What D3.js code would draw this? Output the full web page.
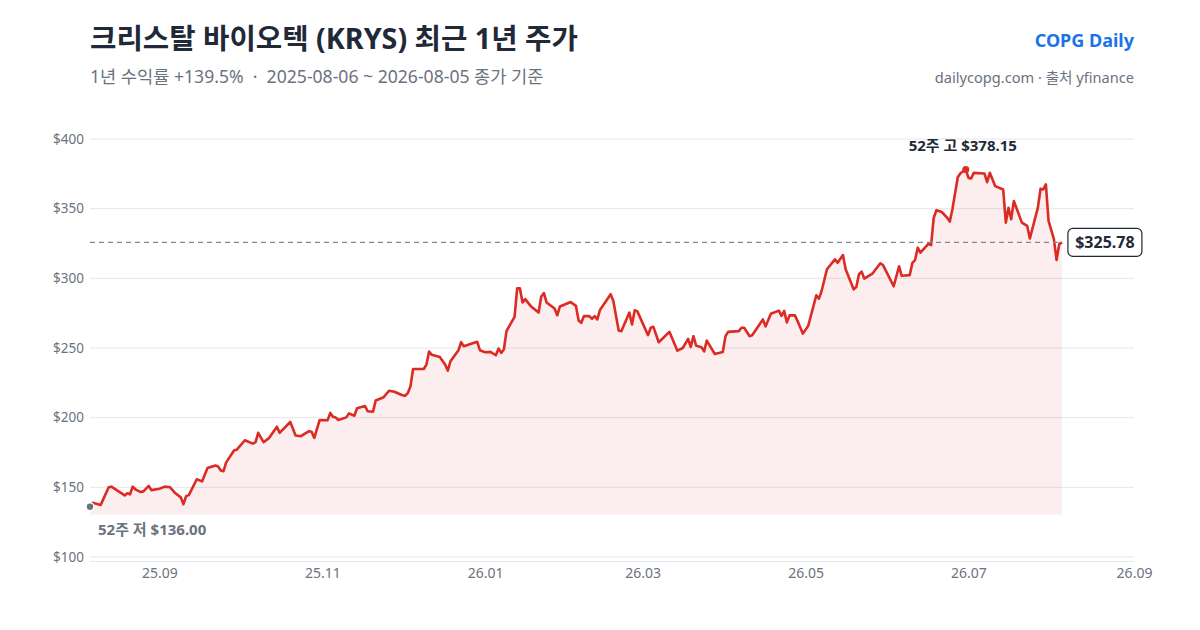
<!DOCTYPE html>
<html><head><meta charset="utf-8">
<script src="https://cdn.jsdelivr.net/npm/d3@7"></script>
<style>
html,body{margin:0;padding:0;background:#fff;}
svg{display:block;}
text{font-family:"Noto Sans","Open Sans","Noto Sans CJK KR",sans-serif;}
</style></head>
<body><svg id="c" width="1200" height="630"></svg>
<script>
const dates = ["2025-08-06","2025-08-07","2025-08-10","2025-08-13","2025-08-14","2025-08-16","2025-08-19","2025-08-20","2025-08-21","2025-08-22","2025-08-23","2025-08-25","2025-08-26","2025-08-28","2025-08-29","2025-09-01","2025-09-03","2025-09-05","2025-09-07","2025-09-09","2025-09-10","2025-09-11","2025-09-12","2025-09-15","2025-09-17","2025-09-19","2025-09-22","2025-09-23","2025-09-24","2025-09-25","2025-09-26","2025-09-29","2025-09-30","2025-10-03","2025-10-06","2025-10-07","2025-10-08","2025-10-10","2025-10-12","2025-10-15","2025-10-16","2025-10-20","2025-10-22","2025-10-24","2025-10-27","2025-10-28","2025-10-29","2025-10-31","2025-11-03","2025-11-04","2025-11-05","2025-11-06","2025-11-07","2025-11-10","2025-11-11","2025-11-13","2025-11-14","2025-11-17","2025-11-18","2025-11-20","2025-11-21","2025-11-24","2025-11-26","2025-11-28","2025-12-01","2025-12-02","2025-12-03","2025-12-04","2025-12-05","2025-12-09","2025-12-10","2025-12-11","2025-12-12","2025-12-15","2025-12-17","2025-12-18","2025-12-19","2025-12-22","2025-12-23","2025-12-24","2025-12-29","2025-12-30","2026-01-01","2026-01-03","2026-01-05","2026-01-06","2026-01-07","2026-01-08","2026-01-09","2026-01-12","2026-01-13","2026-01-14","2026-01-15","2026-01-16","2026-01-18","2026-01-21","2026-01-22","2026-01-23","2026-01-24","2026-01-27","2026-01-28","2026-01-29","2026-02-02","2026-02-04","2026-02-05","2026-02-06","2026-02-07","2026-02-09","2026-02-10","2026-02-11","2026-02-12","2026-02-13","2026-02-17","2026-02-18","2026-02-20","2026-02-21","2026-02-24","2026-02-25","2026-02-26","2026-02-27","2026-03-03","2026-03-04","2026-03-05","2026-03-07","2026-03-11","2026-03-14","2026-03-16","2026-03-18","2026-03-19","2026-03-20","2026-03-21","2026-03-23","2026-03-24","2026-03-25","2026-03-28","2026-03-31","2026-04-01","2026-04-02","2026-04-06","2026-04-07","2026-04-08","2026-04-10","2026-04-11","2026-04-15","2026-04-16","2026-04-18","2026-04-21","2026-04-22","2026-04-23","2026-04-24","2026-04-25","2026-04-27","2026-04-28","2026-04-30","2026-05-02","2026-05-05","2026-05-06","2026-05-07","2026-05-09","2026-05-12","2026-05-13","2026-05-15","2026-05-16","2026-05-19","2026-05-20","2026-05-21","2026-05-22","2026-05-23","2026-05-26","2026-05-29","2026-05-30","2026-06-03","2026-06-05","2026-06-06","2026-06-09","2026-06-10","2026-06-11","2026-06-12","2026-06-13","2026-06-16","2026-06-17","2026-06-18","2026-06-19","2026-06-21","2026-06-23","2026-06-24","2026-06-25","2026-06-27","2026-06-28","2026-06-30","2026-07-01","2026-07-02","2026-07-03","2026-07-07","2026-07-08","2026-07-09","2026-07-11","2026-07-14","2026-07-15","2026-07-16","2026-07-17","2026-07-18","2026-07-21","2026-07-23","2026-07-24","2026-07-27","2026-07-28","2026-07-29","2026-07-30","2026-07-31","2026-08-02","2026-08-03","2026-08-04","2026-08-05"];
const closes = [136.0,138.9,137.4,150.0,150.5,148.0,144.2,145.7,145.0,150.5,148.6,146.6,147.1,151.0,148.0,149.0,150.5,150.0,145.7,142.8,137.9,143.7,144.4,155.8,154.3,163.8,165.7,165.0,162.1,161.6,167.9,176.6,177.0,183.8,181.4,182.4,189.1,182.4,185.3,193.5,189.1,196.9,187.2,186.7,190.3,189.9,185.5,198.3,198.2,203.4,200.7,200.2,198.3,200.2,203.1,201.4,206.7,208.4,204.6,204.3,212.3,214.7,219.3,218.6,216.1,215.7,217.6,222.4,234.9,234.9,238.1,247.5,245.1,243.6,238.1,233.7,240.5,248.4,254.2,251.3,254.5,248.4,247.0,247.2,244.8,249.6,246.5,248.9,262.2,272.3,292.8,292.8,282.7,285.1,280.2,275.4,287.0,289.4,282.7,278.3,273.5,279.8,283.0,280.2,269.8,268.1,272.9,272.9,271.0,272.9,270.5,277.3,288.6,283.8,262.6,262.1,275.4,266.9,277.1,276.3,259.2,264.5,265.2,254.1,261.6,248.1,250.0,256.5,250.7,258.5,251.7,250.5,247.6,255.3,245.7,247.1,258.5,261.6,262.1,264.5,264.5,258.5,259.2,270.5,265.5,274.6,276.8,273.1,276.6,268.4,273.4,273.4,269.3,260.3,266.0,287.8,285.4,290.9,306.5,313.6,311.2,316.7,306.5,292.1,293.8,302.9,304.8,299.8,303.3,310.8,309.5,294.3,308.7,301.8,302.3,311.1,313.1,322.0,318.5,324.7,323.8,343.5,348.9,347.6,343.6,340.7,349.7,372.6,375.4,378.15,372.1,371.7,375.7,375.2,369.0,375.7,366.2,363.8,340.0,350.7,342.4,355.5,340.0,337.6,328.6,350.7,364.3,363.8,367.4,341.2,328.1,313.1,324.5,325.78];
const yTicks = [100,150,200,250,300,350,400];
const xTickDates = ["2025-09-01","2025-11-01","2026-01-01","2026-03-01","2026-05-01","2026-07-01","2026-09-01"];
const titleText = "크리스탈 바이오텍 (KRYS) 최근 1년 주가";
const subtitleText = "1년 수익률 +139.5%  ·  2025-08-06 ~ 2026-08-05 종가 기준";
const brandText = "COPG Daily";
const sourceText = "dailycopg.com · 출처 yfinance";

const FONT = '"Noto Sans","Open Sans","Noto Sans CJK KR",sans-serif';
const parse = d3.timeParse("%Y-%m-%d");
const data = dates.map((d,i)=>({date:parse(d), v:closes[i]}));
const svg = d3.select("#c");
const L=90, R=1134, T=139, B=557;
const x = d3.scaleTime().domain([parse("2025-08-06"), parse("2026-09-01")]).range([L,R]);
const y = d3.scaleLinear().domain([100,400]).range([B,T]);

// header
svg.append("text").attr("x",90).attr("y",49).attr("font-size",28.7).attr("font-weight",700).attr("fill","#1f2937").text(titleText);
svg.append("text").attr("x",90).attr("y",83).attr("font-size",17.6).attr("fill","#6b7280").attr("xml:space","preserve").style("white-space","pre").text(subtitleText);
svg.append("text").attr("x",1134).attr("y",47).attr("text-anchor","end").attr("font-size",18).attr("font-weight",700).attr("fill","#1a73e8").text(brandText);
svg.append("text").attr("x",1134).attr("y",83).attr("text-anchor","end").attr("font-size",14.6).attr("fill","#6b7280").text(sourceText);

// grid
const grid = svg.append("g");
grid.selectAll("line").data(yTicks).join("line")
  .attr("x1",L).attr("x2",R).attr("y1",d=>y(d)).attr("y2",d=>y(d))
  .attr("stroke","#e5e7eb").attr("stroke-width",1);
grid.selectAll("text").data(yTicks).join("text")
  .attr("x",84).attr("y",d=>y(d)).attr("dy","0.35em").attr("text-anchor","end")
  .attr("font-size",13.5).attr("fill","#6b7280").text(d=>"$"+d);

// x axis
const xa = svg.append("g").attr("transform",`translate(0,561)`)
  .call(d3.axisBottom(x).tickValues(xTickDates.map(parse)).tickFormat(d3.timeFormat("%y.%m")).tickSize(0).tickPadding(7));
xa.select(".domain").attr("stroke","#e5e7eb");
xa.selectAll("text").attr("font-size",14).attr("fill","#6b7280").attr("font-family",FONT);

// area + line
const minV = d3.min(closes), maxV = d3.max(closes);
const base = minV*0.96;
svg.append("path").datum(data)
  .attr("d", d3.area().x(d=>x(d.date)).y0(y(base)).y1(d=>y(d.v)))
  .attr("fill","#dc2626").attr("fill-opacity",0.08);
svg.append("path").datum(data)
  .attr("d", d3.line().x(d=>x(d.date)).y(d=>y(d.v)))
  .attr("fill","none").attr("stroke","#dc2b22").attr("stroke-width",2.6).attr("stroke-linejoin","round");

// last price dashed line
const last = data[data.length-1];
svg.append("line").attr("x1",L).attr("x2",x(last.date)).attr("y1",y(last.v)).attr("y2",y(last.v))
  .attr("stroke","#888").attr("stroke-width",1.2).attr("stroke-dasharray","5,4");
const lbl = svg.append("g").attr("transform",`translate(${x(last.date)+6},${y(last.v)})`);
lbl.append("rect").attr("x",0).attr("y",-14).attr("width",74).attr("height",28).attr("rx",5)
  .attr("fill","#fff").attr("stroke","#1f2937").attr("stroke-width",1.2);
lbl.append("text").attr("x",37).attr("y",0).attr("dy","0.36em").attr("text-anchor","middle")
  .attr("font-size",16).attr("font-weight",700).attr("fill","#1f2937").text("$"+last.v.toFixed(2));

// high / low markers
const hi = data.find(d=>d.v===maxV), lo = data.find(d=>d.v===minV);
svg.append("circle").attr("cx",x(hi.date)).attr("cy",y(hi.v)).attr("r",3.5).attr("fill","#dc2b22");
svg.append("text").attr("x",x(hi.date)-3).attr("y",y(hi.v)-18).attr("text-anchor","middle")
  .attr("font-size",15).attr("font-weight",700).attr("fill","#1f2937").text("52주 고 $"+maxV.toFixed(2));
svg.append("circle").attr("cx",x(lo.date)).attr("cy",y(lo.v)).attr("r",4).attr("fill","#6b7280").attr("stroke","#fff").attr("stroke-width",1.5);
svg.append("text").attr("x",x(lo.date)+8).attr("y",y(lo.v)+28)
  .attr("font-size",15).attr("font-weight",700).attr("fill","#6b7280").text("52주 저 $"+minV.toFixed(2));
</script></body></html>
